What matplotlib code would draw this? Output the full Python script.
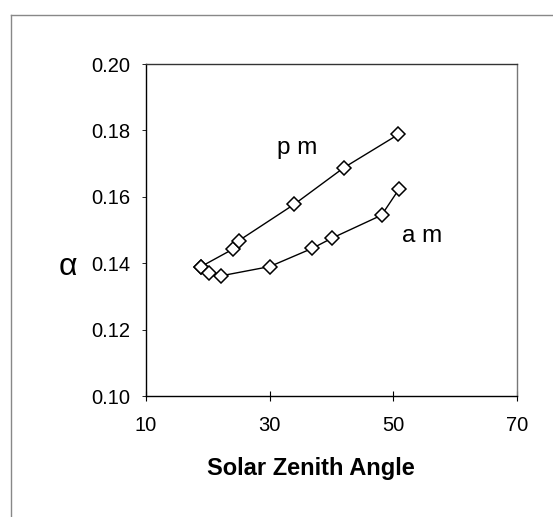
import matplotlib
matplotlib.use("Agg")
import matplotlib.pyplot as plt
from matplotlib.lines import Line2D

plt.rcParams['font.family'] = ['Liberation Sans', 'DejaVu Sans']

pm_x = [18.9, 24.1, 25.0, 34.0, 42.0, 50.8]
pm_y = [0.139, 0.1443, 0.1468, 0.1578, 0.1688, 0.1788]
am_x = [18.9, 20.2, 22.1, 30.0, 36.9, 40.0, 48.1, 50.9]
am_y = [0.139, 0.137, 0.1362, 0.139, 0.1445, 0.1475, 0.1545, 0.1623]
x_ticks = [10, 30, 50, 70]
y_ticks = [0.10, 0.12, 0.14, 0.16, 0.18, 0.20]

fig = plt.figure(figsize=(5.53, 5.17), dpi=100)
ax = fig.add_axes([0.264, 0.234, 0.671, 0.642])

for xs, ys in [(pm_x, pm_y), (am_x, am_y)]:
    ax.plot(xs, ys, color='black', lw=1.0, marker='D', markersize=7,
            markerfacecolor='white', markeredgecolor='black', markeredgewidth=1.1)

ax.text(34.5, 0.1747, 'p m', fontsize=17.5, ha='center', va='center')
ax.text(54.7, 0.1482, 'a m', fontsize=17.5, ha='center', va='center')

ax.set_xlim(10, 70)
ax.set_ylim(0.10, 0.20)
ax.set_xticks(x_ticks)
ax.set_yticks(y_ticks)
ax.set_xticklabels([str(v) for v in x_ticks], fontsize=14.5)
ax.set_yticklabels([f'{v:.2f}' for v in y_ticks], fontsize=14.5)
ax.tick_params(axis='x', direction='inout', length=7, width=0.8, pad=11)
ax.tick_params(axis='y', direction='out', length=3, width=0.6, pad=8)
for s in ax.spines.values():
    s.set_linewidth(1.0)
ax.spines['right'].set_color('#777777')
ax.spines['top'].set_color('#333333')

fig.text(311/553, 1 - 468/517, 'Solar Zenith Angle', fontsize=17, fontweight='bold',
         ha='center', va='center')
fig.text(68/553, 1 - 267/517, 'α', fontsize=23, ha='center', va='center')

# outer frame (left and top edges)
fig.add_artist(Line2D([11/553, 11/553], [0, 1 - 15/517], color='#888888', lw=1.0, transform=fig.transFigure))
fig.add_artist(Line2D([11/553, 1], [1 - 15/517, 1 - 15/517], color='#888888', lw=1.0, transform=fig.transFigure))

fig.savefig('out.png', dpi=100)
